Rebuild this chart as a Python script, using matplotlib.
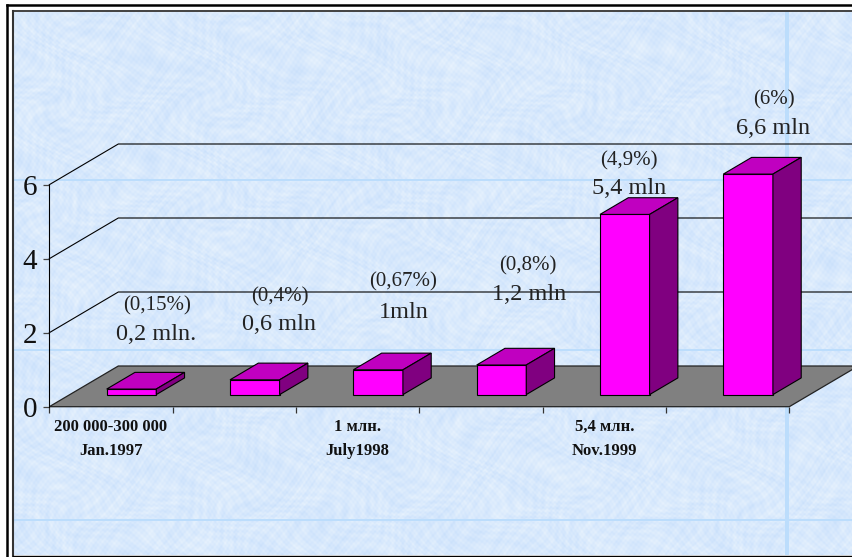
import numpy as np
from matplotlib import pyplot as plt
from matplotlib.patches import Polygon

DPI = 100
WIDTH, HEIGHT = 853, 557

# bar heights
shares = [0.15, 0.4, 0.67, 0.8, 4.87, 5.96]
pct_labels = ["(0,15%)", "(0,4%)", "(0,67%)", "(0,8%)", "(4,9%)", "(6%)"]
value_labels = ["0,2 mln.", "0,6 mln", "1mln", "1,2 mln", "5,4 mln", "6,6 mln"]
x_labels = ["200 000-300 000\nJan.1997", "1 млн.\nJuly1998", "5,4 млн.\nNov.1999"]
x_label_slots = [0.5, 2.5, 4.5]
y_ticks = [0, 2, 4, 6]

# layout, in pixels of the final image
AX_LEFT, AX_RIGHT = 49.3, 789.3
AX_BOTTOM, AX_TOP = 406.7, 184.7
DEPTH_PX = (69.0, 40.7)
pct_pos = [(157, 306), (280, 297), (403, 282), (528, 266), (629, 161), (774, 100)]
value_pos = [(156, 334), (279, 324), (404, 312), (529, 294), (629, 188), (773, 129)]

FRONT = "#ff00ff"
TOP = "#c000c0"
SIDE = "#800080"
FLOOR = "#808080"
SERIF = "Liberation Serif"


def paper_texture():
    # mottled blue paper: warped sine waves so no straight banding shows
    yy, xx = np.mgrid[0:HEIGHT, 0:WIDTH].astype(float)
    warp_a = 3.0 * np.sin(xx * 0.047 + 2.0 * np.sin(yy * 0.061))
    warp_b = 3.0 * np.sin(yy * 0.053 + 2.0 * np.sin(xx * 0.037 + 1.1))
    noise = (
        0.8 * np.sin(xx * 0.067 + warp_b) * np.sin(yy * 0.083 + warp_a)
        + 0.5 * np.sin(xx * 0.53 + yy * 0.31 + 2 * warp_b)
        + 0.5 * np.sin(yy * 0.61 - xx * 0.29 + 2 * warp_a)
        + 0.6 * np.sin(xx * 1.37 + warp_b) * np.sin(yy * 1.19 + warp_a)
    ) / 2.4
    base = np.array([0.85, 0.915, 0.99])
    tone = np.array([0.06, 0.036, 0.003])
    img = base + noise[..., None] * tone
    # tile seams of the wallpaper
    seam = np.array([0.74, 0.87, 0.99])
    for row in (180, 350, 520):
        img[row - 1:row + 1] = seam
    img[:, 785:789] = seam
    return np.clip(img, 0, 1)


fig = plt.figure(figsize=(WIDTH / DPI, HEIGHT / DPI), dpi=DPI, facecolor="white")

# full-figure layer in pixel coordinates for the slide frame
bg = fig.add_axes([0, 0, 1, 1])
bg.axis("off")
bg.imshow(
    paper_texture()[12:555, 14:],
    extent=(14, WIDTH, 555, 12),
    aspect="auto",
    interpolation="nearest",
    zorder=1,
)
bg.set_xlim(0, WIDTH)
bg.set_ylim(HEIGHT, 0)
bg.plot([7, 7], [HEIGHT, 5], color="black", lw=1.8, zorder=2)
bg.plot([7, WIDTH], [5, 5], color="black", lw=1.8, zorder=2)
bg.plot([13, 13], [555.5, 11], color="#333333", lw=1.5, zorder=2)
bg.plot([13, WIDTH], [11, 11], color="#333333", lw=1.3, zorder=2)
bg.plot([13, WIDTH], [556.3, 556.3], color="black", lw=1.0, zorder=2)

ax = fig.add_axes(
    [
        AX_LEFT / WIDTH,
        1 - AX_BOTTOM / HEIGHT,
        (AX_RIGHT - AX_LEFT) / WIDTH,
        (AX_BOTTOM - AX_TOP) / HEIGHT,
    ]
)
ax.patch.set_alpha(0)
ax.set_xlim(0, len(shares))
ax.set_ylim(0, y_ticks[-1])
for side in ("top", "right", "bottom"):
    ax.spines[side].set_visible(False)
ax.spines["left"].set_linewidth(0.8)

# depth of the 3D box, in data units
depth_x = DEPTH_PX[0] / ((AX_RIGHT - AX_LEFT) / len(shares))
depth_y = DEPTH_PX[1] / ((AX_BOTTOM - AX_TOP) / y_ticks[-1])

n = len(shares)
floor = [(0, 0), (n, 0), (n + depth_x, depth_y), (depth_x, depth_y)]
ax.add_patch(Polygon(floor, facecolor=FLOOR, edgecolor="#222222", lw=0.9, clip_on=False, zorder=2))

# wall lines: slanted on the left side wall, then across the back wall
for tick in y_ticks[1:]:
    ax.plot(
        [0, depth_x, n + depth_x],
        [tick, tick + depth_y, tick + depth_y],
        color="black",
        lw=0.8,
        clip_on=False,
        zorder=1,
    )

# the bars, front face 0.3 of the way into the box, 0.4 of the box deep
front_frac = 0.297
deep_frac = 0.41
bar_w = 0.402
for i, val in enumerate(shares):
    x0 = i + 0.5 - bar_w / 2 + front_frac * depth_x
    x1 = x0 + bar_w
    y0 = front_frac * depth_y
    y1 = y0 + val
    dx = deep_frac * depth_x
    dy = deep_frac * depth_y
    ax.bar(x0, val, bar_w, bottom=y0, align="edge", color=FRONT, edgecolor="black", lw=0.8, clip_on=False, zorder=4)
    top = [(x0, y1), (x1, y1), (x1 + dx, y1 + dy), (x0 + dx, y1 + dy)]
    ax.add_patch(Polygon(top, facecolor=TOP, edgecolor="black", lw=0.8, clip_on=False, zorder=4))
    side = [(x1, y0), (x1 + dx, y0 + dy), (x1 + dx, y1 + dy), (x1, y1)]
    ax.add_patch(Polygon(side, facecolor=SIDE, edgecolor="black", lw=0.8, clip_on=False, zorder=4))

ax.set_yticks(y_ticks)
ax.set_yticklabels([str(t) for t in y_ticks], family=SERIF, fontsize=21, color="#111111")
ax.tick_params(axis="y", length=4.3, width=0.9, color="#444444", pad=4.5)

ax.set_xticks(range(n + 1))
ax.set_xticklabels([])
ax.tick_params(axis="x", which="major", length=4.5, width=0.9, color="#333333")
ax.set_xticks(x_label_slots, minor=True)
ax.set_xticklabels(x_labels, minor=True, family=SERIF, fontsize=12, fontweight="bold", linespacing=1.62, color="#111111")
ax.tick_params(axis="x", which="minor", length=0, pad=9)

# data labels are hand-placed in the original, so they go by figure pixel
for text, (px, py) in zip(pct_labels, pct_pos):
    fig.text(px / WIDTH, 1 - py / HEIGHT, text, family=SERIF, fontsize=15, color="#222222", ha="center", va="center", zorder=6)
for text, (px, py) in zip(value_labels, value_pos):
    fig.text(px / WIDTH, 1 - py / HEIGHT, text, family=SERIF, fontsize=17.5, color="#222222", ha="center", va="center", zorder=6)

fig.savefig("out.png", dpi=DPI)
